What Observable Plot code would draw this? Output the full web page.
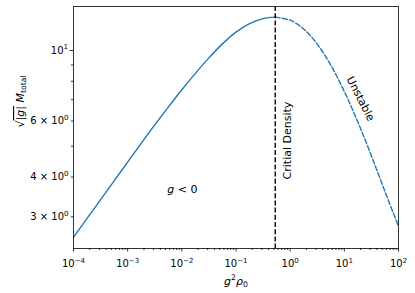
<!DOCTYPE html>
<html><head><meta charset="utf-8">
<script src="https://cdn.jsdelivr.net/npm/d3@7"></script>
<script src="https://cdn.jsdelivr.net/npm/@observablehq/plot@0.6"></script>
<style>body{margin:0;background:#fff}</style>
</head><body><div id="chart"></div>
<script>
// stable branch (g < 0), solid
const stableX = [1e-4, 1.778e-4, 3.162e-4, 5.623e-4, 1e-3, 1.778e-3, 3.162e-3, 5.623e-3, 1e-2, 1.778e-2, 3.162e-2, 5.623e-2, 1e-1, 1.778e-1, 3.162e-1, 0.53];
const stableY = [2.59, 2.965, 3.396, 3.89, 4.457, 5.105, 5.834, 6.637, 7.524, 8.472, 9.48, 10.49, 11.42, 12.15, 12.6, 12.73];
// unstable branch, dashed
const unstableX = [0.53, 1, 1.778, 3.162, 5.623, 10, 17.78, 31.62, 56.23, 100];
const unstableY = [12.73, 12.45, 11.68, 10.47, 8.99, 7.43, 5.955, 4.663, 3.603, 2.80];
const criticalDensity = [0.53];
// ticks
const xMajorTicks = [1e-4, 1e-3, 1e-2, 1e-1, 1, 10, 100];
const xMajorLabels = ["10^−4", "10^−3", "10^−2", "10^−1", "10^0", "10^1", "10^2"];
const yMajorTicks = [10];
const yMajorLabels = ["10^1"];
const yMinorLabeledTicks = [3, 4, 6];
const yMinorLabels = ["3 × 10^0", "4 × 10^0", "6 × 10^0"];
const yMinorTicks = [5, 7, 8, 9];
// annotations
const annotations = [
  {x: 0.0102, y: 3.66, text: "g < 0", rotate: 0},
  {x: 0.892, y: 5.21, text: "Critial Density", rotate: -90},
  {x: 19.9, y: 7.05, text: "Unstable", rotate: 63}
];

const xMinorTicks = [];
for (let e = -4; e < 2; e++) for (let m = 2; m <= 9; m++) xMinorTicks.push(m * Math.pow(10, e));

const stable = stableX.map((x, i) => ({x, y: stableY[i]}));
const unstable = unstableX.map((x, i) => ({x, y: unstableY[i]}));
const xLab = new Map(xMajorTicks.map((d, i) => [d, xMajorLabels[i]]));
const yLab = new Map(yMajorTicks.map((d, i) => [d, yMajorLabels[i]]));
const yMinLab = new Map(yMinorLabeledTicks.map((d, i) => [d, yMinorLabels[i]]));

const blue = "#1f77b4";
const plot = Plot.plot({
  width: 415, height: 293,
  marginLeft: 73, marginRight: 17, marginTop: 6, marginBottom: 45,
  style: {fontFamily: "DejaVu Sans", fontSize: "10px", background: "white", color: "black", overflow: "visible"},
  x: {type: "log", domain: [1e-4, 1e2], label: null},
  y: {type: "log", domain: [2.385, 13.75], label: null},
  marks: [
    Plot.line(stable, {x: "x", y: "y", stroke: blue, strokeWidth: 1.4, curve: "catmull-rom"}),
    Plot.line(unstable, {x: "x", y: "y", stroke: blue, strokeWidth: 1.4, strokeDasharray: "5,2.2", curve: "catmull-rom"}),
    Plot.ruleX(criticalDensity, {stroke: "black", strokeWidth: 1.4, strokeDasharray: "5,2.2"}),
    Plot.text(annotations, {x: "x", y: "y", text: "text", rotate: "rotate", fontSize: 11, fill: "black"}),
    Plot.axisX(xMinorTicks, {tickSize: 2, tickFormat: () => "", strokeWidth: 0.8}),
    Plot.axisX(xMajorTicks, {tickSize: 3.5, tickPadding: 8, tickFormat: d => xLab.get(d), strokeWidth: 0.8}),
    Plot.axisY(yMinorTicks, {tickSize: 2, tickFormat: () => "", strokeWidth: 0.8}),
    Plot.axisY(yMinorLabeledTicks, {tickSize: 2, tickPadding: 3, tickFormat: d => yMinLab.get(d), strokeWidth: 0.8}),
    Plot.axisY(yMajorTicks, {tickSize: 3.5, tickPadding: 2, tickFormat: d => yLab.get(d), strokeWidth: 0.8}),
    Plot.text(["XLABEL"], {frameAnchor: "bottom", lineAnchor: "middle", dy: 33, fontSize: 11, fill: "black"}),
    Plot.text(["YLABEL"], {frameAnchor: "left", dx: -53, rotate: -90, fontSize: 11, fill: "black"}),
    Plot.frame({stroke: "black", strokeWidth: 0.8})
  ]
});
document.getElementById("chart").appendChild(plot);

const ns = "http://www.w3.org/2000/svg";
function rich(el, parts, size) {
  el.textContent = "";
  let off = 0;
  for (const p of parts) {
    const ts = document.createElementNS(ns, "tspan");
    const target = p.sup ? -size * 0.42 : p.sub ? size * 0.22 : 0;
    ts.setAttribute("dy", target - off); off = target;
    if (p.sup || p.sub) ts.setAttribute("font-size", size * 0.7);
    if (p.it) ts.setAttribute("font-style", "italic");
    if (p.over) ts.setAttribute("text-decoration", "overline");
    ts.textContent = p.t;
    el.appendChild(ts);
  }
}
plot.querySelectorAll("text").forEach(el => {
  const s = el.textContent;
  if (s.includes("^")) {
    const [a, b] = s.split("^");
    rich(el, [{t: a}, {t: b, sup: true}], 10);
  } else if (s === "XLABEL") {
    rich(el, [{t: "g", it: true}, {t: "2", sup: true}, {t: "ρ", it: true}, {t: "0", sub: true}], 11);
  } else if (s === "YLABEL") {
    rich(el, [{t: "√"}, {t: "|", over: true}, {t: "g", it: true, over: true}, {t: "|", over: true}, {t: " "}, {t: "M", it: true}, {t: "total", sub: true}], 11);
  } else if (s === "g < 0") {
    rich(el, [{t: "g", it: true}, {t: " < 0"}], 11);
  }
});
</script>
</body></html>
